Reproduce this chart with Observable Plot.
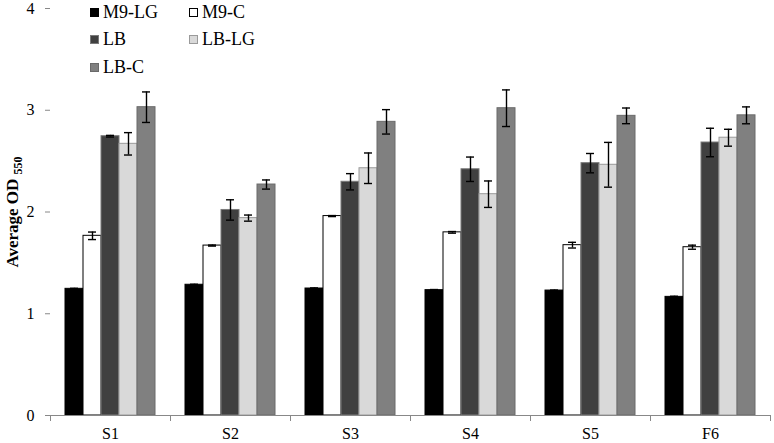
<!DOCTYPE html>
<html><head><meta charset="utf-8">
<script src="https://cdn.jsdelivr.net/npm/d3@7"></script>
<script src="https://cdn.jsdelivr.net/npm/@observablehq/plot@0.6"></script>
<style>
body{margin:0;background:#fff}
#wrap{position:relative;width:774px;height:443px;font-family:"Liberation Serif",serif}
#wrap svg text{font-family:"Liberation Serif",serif}
.leg{position:absolute;font-size:18px;line-height:22px;display:flex;align-items:center;white-space:nowrap;color:#000}
.sw{width:9px;height:9px;margin-right:4px;box-sizing:border-box}
</style></head>
<body><div id="wrap"></div>
<script>
const groups = ["S1","S2","S3","S4","S5","F6"];
const series = ["M9-LG","M9-C","LB","LB-LG","LB-C"];
const m9lg  = [1.245,1.285,1.248,1.232,1.228,1.166];
const m9c   = [1.766,1.670,1.960,1.800,1.674,1.654];
const lb    = [2.745,2.020,2.297,2.420,2.480,2.683];
const lblg  = [2.670,1.940,2.430,2.175,2.464,2.730];
const lbc   = [3.030,2.270,2.886,3.020,2.945,2.950];
const m9lgE = [0.005,0.005,0.006,0.006,0.005,0.006];
const m9cE  = [0.037,0.005,0.005,0.008,0.028,0.020];
const lbE   = [0.008,0.100,0.080,0.120,0.095,0.140];
const lblgE = [0.110,0.030,0.150,0.130,0.220,0.083];
const lbcE  = [0.150,0.045,0.120,0.180,0.077,0.083];
const yTicks = [0,1,2,3,4];
const fills   = ["#000000","#ffffff","#404040","#d9d9d9","#808080"];
const strokes = ["#000000","#000000","#7a7a7a","#9a9a9a","#6a6a6a"];

const vals = [m9lg,m9c,lb,lblg,lbc];
const errs = [m9lgE,m9cE,lbE,lblgE,lbcE];
const rows = [];
groups.forEach((g,i)=>series.forEach((s,j)=>rows.push({group:g,series:s,value:vals[j][i],err:errs[j][i],fill:fills[j],stroke:strokes[j]})));

const W=774,H=443,mt=8,mb=28,ml=49,mr=3;
const plot = Plot.plot({
  width:W,height:H,marginLeft:ml,marginRight:mr,marginTop:mt,marginBottom:mb,
  style:{fontFamily:"Liberation Serif",fontSize:"16px",background:"#fff",color:"#000"},
  fx:{domain:groups,padding:0,label:null,axis:null},
  x:{domain:series,paddingInner:0,paddingOuter:0.73,axis:null},
  y:{domain:[0,4],label:null,axis:null},
  color:{type:"identity"},
  marks:[
    Plot.barY(rows,{fx:"group",x:"series",y:"value",fill:"fill",stroke:"stroke",strokeWidth:1}),
    Plot.ruleX(rows,{fx:"group",x:"series",y1:d=>d.value-d.err,y2:d=>d.value+d.err,stroke:"#000",strokeWidth:1.4}),
    Plot.tickY(rows,{fx:"group",x:"series",y:d=>d.value-d.err,insetLeft:5,insetRight:5,stroke:"#000",strokeWidth:1.4}),
    Plot.tickY(rows,{fx:"group",x:"series",y:d=>d.value+d.err,insetLeft:5,insetRight:5,stroke:"#000",strokeWidth:1.4}),
    Plot.ruleY([0],{stroke:"#888"}),
    Plot.frame({anchor:"left",stroke:"#888",insetTop:H-mt-mb,insetBottom:-5}),
    Plot.frame({anchor:"right",stroke:"#888",insetTop:H-mt-mb,insetBottom:-5}),
    Plot.axisY({ticks:yTicks,tickFormat:d=>String(d),tickSize:5,tickPadding:11,stroke:"#888",fill:"#000",line:true,label:null,fontSize:16}),
    Plot.axisFx({anchor:"bottom",tickSize:0,tickPadding:12,label:null,fontSize:16})
  ]
});
const wrap = document.getElementById("wrap");
wrap.appendChild(plot);

// y-axis title with subscript
const svg = d3.select(plot);
const t = svg.append("text")
  .attr("transform","translate(18,212) rotate(-90)")
  .attr("text-anchor","middle")
  .attr("font-weight","bold")
  .attr("font-size",17)
  .attr("fill","#000");
t.append("tspan").text("Average OD ");
t.append("tspan").attr("font-size",12).attr("dy",4).text("550");

// legend
const legPos = [[90,1],[189,1],[90,28],[189,28],[90,56]];
series.forEach((s,j)=>{
  const d = document.createElement("div");
  d.className="leg";
  d.style.left=legPos[j][0]+"px";
  d.style.top=legPos[j][1]+"px";
  const sw=document.createElement("span");
  sw.className="sw";
  sw.style.background=fills[j];
  sw.style.border="1px solid "+strokes[j];
  d.appendChild(sw);
  d.appendChild(document.createTextNode(s));
  wrap.appendChild(d);
});
</script>
</body></html>
